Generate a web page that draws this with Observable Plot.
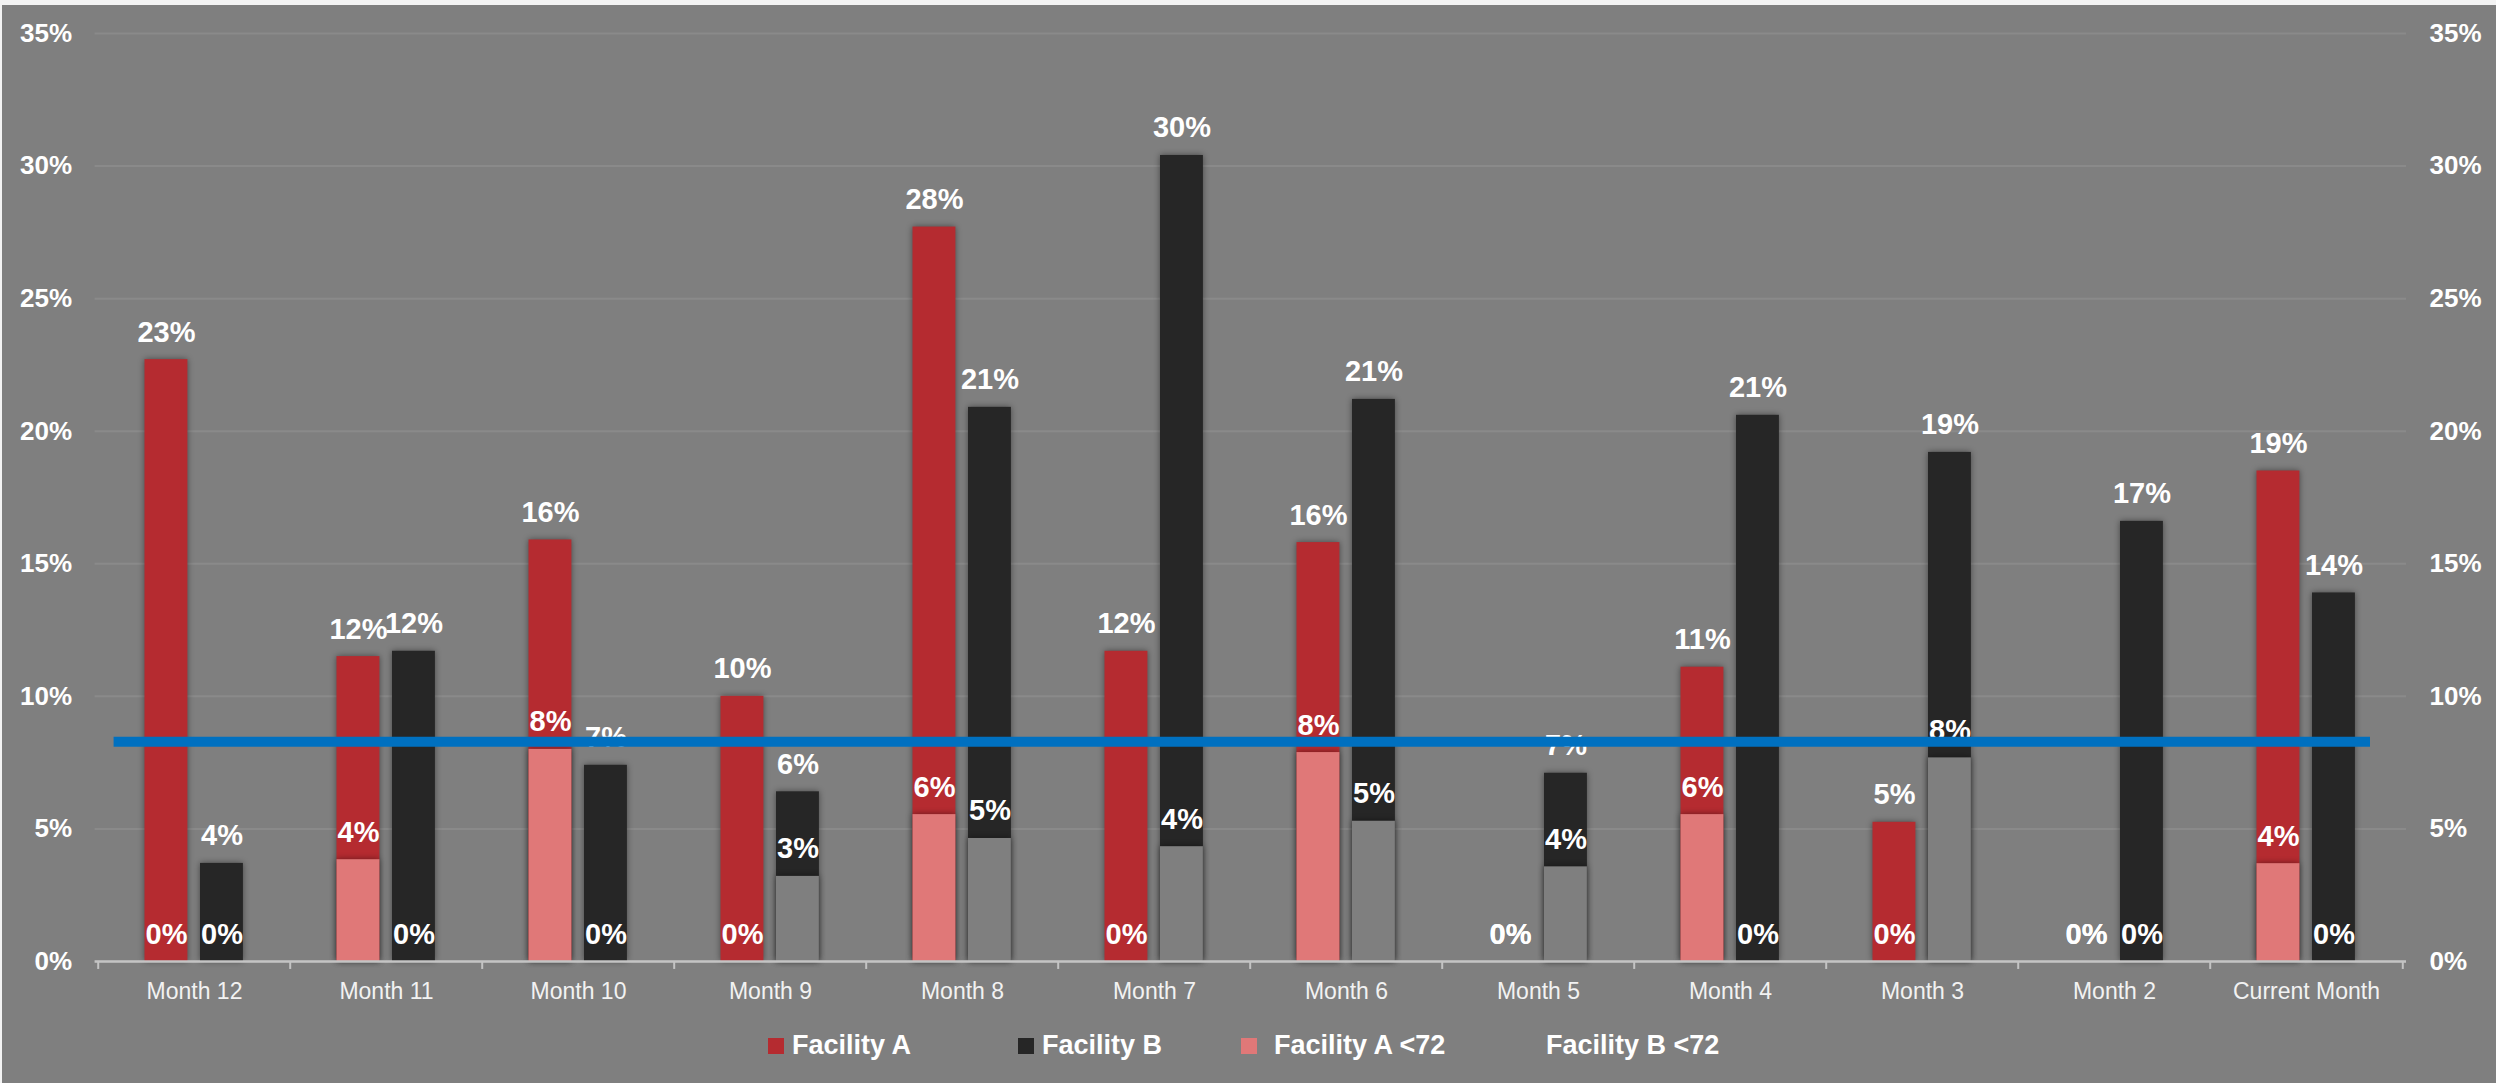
<!DOCTYPE html>
<html>
<head>
<meta charset="utf-8">
<script src="https://cdn.jsdelivr.net/npm/d3@7"></script>
<script src="https://cdn.jsdelivr.net/npm/@observablehq/plot@0.6"></script>
<style>
  html, body { margin: 0; padding: 0; background: #f3f3f3; }
  #frame { position: absolute; left: 2px; top: 5px; width: 2494px; height: 1078px; background: #7f7f7f; overflow: hidden; }
  #chart svg { display: block; }
  #chart svg g[aria-label="bar"] rect { filter: drop-shadow(0 0 3px rgba(0,0,0,0.45)); }
  .lg { position: absolute; font-family: "Liberation Sans", Arial, sans-serif; font-weight: bold; font-size: 27px; color: #ffffff; line-height: 1; }
  .sw { position: absolute; width: 16px; height: 16px; }
</style>
</head>
<body>
<div id="frame">
  <div id="chart"></div>
  <div id="legend"></div>
</div>
<script>
// ---- data ----
const months = ["Month 12", "Month 11", "Month 10", "Month 9", "Month 8", "Month 7", "Month 6", "Month 5", "Month 4", "Month 3", "Month 2", "Current Month"];
const facilityA   = [22.7, 11.5, 15.9, 10.0, 27.7, 11.7, 15.8, 0, 11.1, 5.25, 0, 18.5];
const facilityB   = [3.7, 11.7, 7.4, 6.4, 20.9, 30.4, 21.2, 7.1, 20.6, 19.2, 16.6, 13.9];
const facilityA72 = [0, 3.84, 8.0, 0, 5.54, 0, 7.88, 0, 5.54, 0, 0, 3.69];
const facilityB72 = [0, 0, 0, 3.21, 4.64, 4.33, 5.29, 3.57, 0, 7.68, 0, 0];
const target = 8.29;
const yTicks = [0, 5, 10, 15, 20, 25, 30, 35];
const seriesNames = ["Facility A", "Facility B", "Facility A <72", "Facility B <72"];
const seriesColors = ["#b52b30", "#262626", "#e07878", "#7f7f7f"];

const rows = months.map((m, i) => ({month: m, a: facilityA[i], b: facilityB[i], a72: facilityA72[i], b72: facilityB72[i]}));

const font = '"Liberation Sans", Arial, sans-serif';
const pct = v => Math.round(v) + "%";

const bw = 192.6;
const aInset = {insetLeft: 46.5, insetRight: 102.6};
const bInset = {insetLeft: 102, insetRight: 47.1};
const aDx = -28, bDx = 27.5;
const lbl = {lineAnchor: "bottom", dy: -18, fill: "white", fontSize: 29, fontWeight: "bold"};

const chart = Plot.plot({
  width: 2494,
  height: 1010,
  marginLeft: 92.6,
  marginRight: 90,
  marginTop: 28,
  marginBottom: 54,
  style: {background: "transparent", color: "white", fontFamily: font, overflow: "visible"},
  x: {type: "band", domain: months, padding: 0, label: null, axis: null},
  y: {domain: [0, 35], label: null, axis: null},
  marks: [
    Plot.gridY(yTicks, {stroke: "#8a8a8a", strokeOpacity: 1, strokeWidth: 2}),
    Plot.axisY(yTicks, {anchor: "left", tickSize: 0, tickPadding: 23, tickFormat: d => d + "%", fontSize: 26, fontWeight: "bold", fill: "white"}),
    Plot.axisY(yTicks, {anchor: "right", tickSize: 0, tickPadding: 23, tickFormat: d => d + "%", fontSize: 26, fontWeight: "bold", fill: "white"}),
    Plot.axisX(months, {anchor: "bottom", tickSize: 0, tickPadding: 21, fontSize: 23, fill: "#f2f2f2"}),
    // bars
    Plot.barY(rows, {x: "month", y: "a", fill: seriesColors[0], ...aInset}),
    Plot.barY(rows, {x: "month", y: "b", fill: seriesColors[1], ...bInset}),
    Plot.barY(rows, {x: "month", y: "a72", fill: seriesColors[2], ...aInset}),
    Plot.barY(rows, {x: "month", y: "b72", fill: seriesColors[3], ...bInset}),
    // axis line and boundary ticks
    Plot.ruleY([0], {stroke: "#c4c4c4", strokeWidth: 2.5}),
    Plot.ruleX(months, {x: d => d, y1: 0, y2: -0.3, dx: -bw / 2, stroke: "#c4c4c4", strokeWidth: 2}),
    Plot.ruleX(months.slice(-1), {x: d => d, y1: 0, y2: -0.3, dx: bw / 2, stroke: "#c4c4c4", strokeWidth: 2}),
    // labels
    Plot.text(rows, {x: "month", y: "a", text: d => pct(d.a), dx: aDx, ...lbl}),
    Plot.text(rows, {x: "month", y: "b", text: d => pct(d.b), dx: bDx, ...lbl}),
    Plot.text(rows, {x: "month", y: "a72", text: d => pct(d.a72), dx: aDx, ...lbl}),
    Plot.text(rows, {x: "month", y: "b72", text: d => pct(d.b72), dx: bDx, ...lbl}),
    // target line (drawn over the labels, as in the reference)
    Plot.ruleY([target], {stroke: "#0070c0", strokeWidth: 10, insetLeft: 19, insetRight: 36})
  ]
});
document.getElementById("chart").appendChild(chart);

// legend (below the chart)
const legend = document.getElementById("legend");
const swatchLeft = [766, 1016, 1239, 1512];
const textLeft = [790, 1040, 1272, 1544];
seriesNames.forEach((name, i) => {
  const sw = document.createElement("div");
  sw.className = "sw";
  sw.style.left = swatchLeft[i] + "px";
  sw.style.top = "1033px";
  sw.style.background = seriesColors[i];
  legend.appendChild(sw);
  const t = document.createElement("div");
  t.className = "lg";
  t.style.left = textLeft[i] + "px";
  t.style.top = "1027px";
  t.textContent = name;
  legend.appendChild(t);
});
</script>
</body>
</html>
